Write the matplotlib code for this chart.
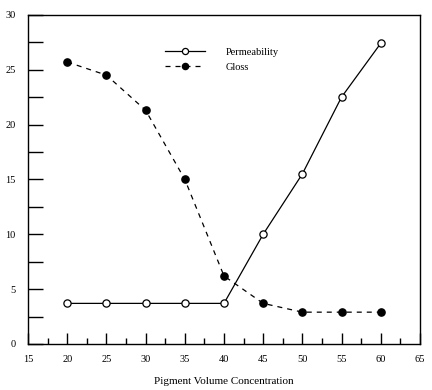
import matplotlib
matplotlib.use('Agg')
from matplotlib import pyplot as plt
from matplotlib.ticker import MultipleLocator

pvc = [20, 25, 30, 35, 40, 45, 50, 55, 60]
permeability = [3.7, 3.7, 3.7, 3.7, 3.7, 10.0, 15.5, 22.5, 27.4]
gloss = [25.7, 24.5, 21.3, 15.0, 6.2, 3.7, 2.9, 2.9, 2.9]

plt.rcParams['font.family'] = 'Liberation Serif'

fig = plt.figure(figsize=(4.32, 3.9), dpi=100)
ax = fig.add_axes([0.065, 0.118, 0.907, 0.844])

ax.plot(pvc, permeability, color='black', lw=0.9, marker='o', ms=5.2,
        mfc='white', mec='black', mew=0.9, label='Permeability')
ax.plot(pvc, gloss, color='black', lw=0.9, ls=(0, (4, 4)), marker='o', ms=5.2,
        mfc='black', mec='black', label='Gloss')

ax.set_xlim(15, 65)
ax.set_ylim(0, 30)
ax.xaxis.set_major_locator(MultipleLocator(5))
ax.xaxis.set_minor_locator(MultipleLocator(2.5))
ax.yaxis.set_major_locator(MultipleLocator(5))
ax.yaxis.set_minor_locator(MultipleLocator(2.5))
ax.tick_params(axis='x', which='major', direction='in', length=8, width=1, labelsize=7.5, pad=8)
ax.tick_params(axis='x', which='minor', direction='in', length=4, width=1)
ax.tick_params(axis='y', which='both', direction='in', length=11, width=1, labelsize=7.5, pad=9)
for s in ax.spines.values():
    s.set_linewidth(1)

ax.set_xlabel('Pigment Volume Concentration', fontsize=8, labelpad=9)

ax.legend(loc='upper left', bbox_to_anchor=(0.325, 0.93), frameon=False, fontsize=7.5,
          handlelength=3.85, handletextpad=2.0, labelspacing=0.55, markerscale=0.85)

fig.savefig('out.png', dpi=100)
